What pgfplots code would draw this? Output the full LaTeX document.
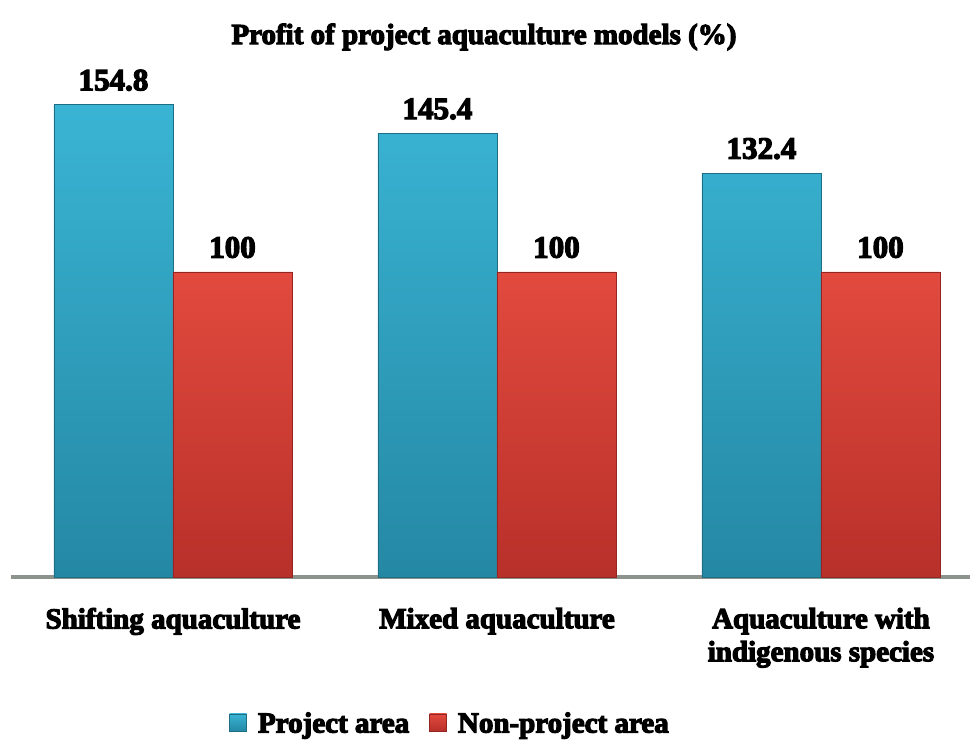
\documentclass[border=0pt]{standalone}
\usepackage{pgfplots}
\pgfplotsset{compat=1.18}
\usepackage{fontspec}
\setmainfont{Liberation Serif}[BoldFeatures={FakeBold=4}]
\definecolor{blueTop}{RGB}{58,180,212}
\definecolor{blueBot}{RGB}{36,136,164}
\definecolor{redTop}{RGB}{226,74,62}
\definecolor{redBot}{RGB}{184,48,42}
\definecolor{axisgray}{RGB}{140,146,140}
\pgfplotsset{sqlegend/.style={legend image code/.code={\path[##1] (0pt,-3.5pt) rectangle (8.5pt,5pt);}}}
\begin{document}
\begin{tikzpicture}
\useasboundingbox (0,0) rectangle (485pt,370pt);
\begin{axis}[
  at={(5.5pt,81.5pt)}, anchor=south west,
  scale only axis, width=479.5pt, height=259.25pt,
  ymin=0, ymax=170, xmin=-0.5, xmax=2.46,
  ybar=0pt, bar width=59.5pt,
  axis y line=none, axis x line=bottom,
  x axis line style={-, draw=axisgray, line width=2pt},
  xtick={0,1,2},
  xticklabels={Shifting aquaculture, Mixed aquaculture, {Aquaculture with\\indigenous species}},
  major tick length=0pt,
  xticklabel style={font=\fontsize{14.5pt}{16.5pt}\selectfont\bfseries, align=center, anchor=north, yshift=-12pt},
  /pgf/number format/assume math mode=true,
  nodes near coords,
  every node near coord/.append style={font=\fontsize{15.5pt}{18pt}\selectfont\bfseries, yshift=3.5pt, text=black},
  title={Profit of project aquaculture models (\%)},
  title style={font=\fontsize{14.5pt}{17pt}\selectfont\bfseries, at={(axis description cs:0.4932,1.0048)}, anchor=base},
  legend columns=2,
  legend style={draw=none, fill=none, at={(axis description cs:0.4588,-0.2835)}, anchor=center,
    font=\fontsize{14.5pt}{17pt}\selectfont\bfseries,
    /tikz/every odd column/.append style={column sep=3.5pt},
    /tikz/every even column/.append style={column sep=8pt}},
]
\addplot[draw=blueBot!80!black, top color=blueTop, bottom color=blueBot, sqlegend]
  coordinates {(0,154.8) (1,145.4) (2,132.4)};
\addplot[draw=redBot!80!black, top color=redTop, bottom color=redBot, sqlegend]
  coordinates {(0,100) (1,100) (2,100)};
\legend{Project area, Non-project area}
\end{axis}
\end{tikzpicture}
\end{document}
